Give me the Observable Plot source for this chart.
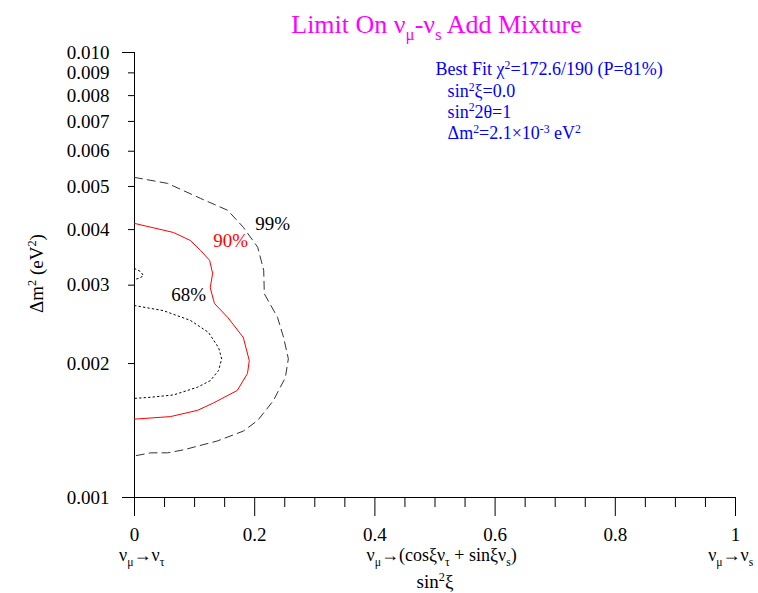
<!DOCTYPE html>
<html>
<head>
<meta charset="utf-8">
<script src="https://cdn.jsdelivr.net/npm/d3@7"></script>
<script src="https://cdn.jsdelivr.net/npm/@observablehq/plot@0.6"></script>
<style>
  html, body { margin: 0; padding: 0; background: #fff; }
  #chart svg, #chart svg text, #chart svg tspan { font-family: "Liberation Serif", "Times New Roman", serif !important; }
</style>
</head>
<body>
<div id="chart"></div>
<script>
// ---------- data ----------
const titleText = "Limit On ν_{μ}-ν_{s} Add Mixture";
const yLabelText = "Δm^{2} (eV^{2})";
const xTitleText = "sin^{2}ξ";

const xMajorTicks = [0, 0.2, 0.4, 0.6, 0.8, 1];
const xMinorTicks = [0.05, 0.1, 0.15, 0.25, 0.3, 0.35, 0.45, 0.5, 0.55, 0.65, 0.7, 0.75, 0.85, 0.9, 0.95];
const yTicks = [0.001, 0.002, 0.003, 0.004, 0.005, 0.006, 0.007, 0.008, 0.009, 0.010];
const yMajorTicks = [0.001, 0.010];

const xSubLabels = ["ν_{μ}→ν_{τ}", "ν_{μ}→(cosξν_{τ} + sinξν_{s})", "ν_{μ}→ν_{s}"];
const xSubLabelPos = [0.012, 0.511, 0.992];

// contours: [sin^2 xi, delta m^2 (eV^2)]
const c99 = [
  [0, 0.00524], [0.055, 0.00508], [0.110, 0.00470], [0.155, 0.00442], [0.181, 0.00405],
  [0.205, 0.00365], [0.215, 0.00324], [0.216, 0.00287], [0.238, 0.00254], [0.248, 0.00229],
  [0.256, 0.00205], [0.251, 0.00186], [0.231, 0.00165], [0.205, 0.00149], [0.181, 0.00141],
  [0.138, 0.00134], [0.082, 0.00128], [0.055, 0.00126], [0.027, 0.00126], [0, 0.00124]
];
const c90 = [
  [0, 0.00413], [0.027, 0.00405], [0.065, 0.00394], [0.093, 0.00378], [0.110, 0.00359],
  [0.125, 0.00341], [0.130, 0.00319], [0.126, 0.00296], [0.133, 0.00273], [0.155, 0.00254],
  [0.181, 0.00229], [0.191, 0.00203], [0.188, 0.00190], [0.171, 0.00174], [0.131, 0.00163],
  [0.105, 0.00157], [0.060, 0.00152], [0, 0.00150]
];
const c68 = [
  [0, 0.00270], [0.048, 0.00263], [0.093, 0.00250], [0.123, 0.00235], [0.140, 0.00217],
  [0.145, 0.00205], [0.140, 0.00193], [0.126, 0.00183], [0.105, 0.00177], [0.065, 0.00170],
  [0.027, 0.00168], [0, 0.00167]
];
const c68island = [
  [0, 0.00327], [0.010, 0.00322], [0.015, 0.00315], [0.008, 0.00311], [0, 0.00309]
];

const pctLabels = ["99%", "90%", "68%"];
const pctX = [0.230, 0.160, 0.090];
const pctY = [0.00400, 0.00366, 0.00277];
const pctColors = ["#000000", "#ff0000", "#000000"];

const fitLines = [
  "Best Fit χ^{2}=172.6/190 (P=81%)",
  "sin^{2}ξ=0.0",
  "sin^{2}2θ=1",
  "Δm^{2}=2.1×10^{-3} eV^{2}"
];
const fitX = [0.501, 0.521, 0.521, 0.521];
const fitY = [0.00888, 0.00794, 0.00713, 0.00639];

// ---------- chart ----------
const serif = "Liberation Serif";

const chart = Plot.plot({
  width: 758,
  height: 593,
  marginLeft: 134,
  marginRight: 23,
  marginTop: 52,
  marginBottom: 96,
  x: {domain: [0, 1]},
  y: {type: "log", domain: [0.001, 0.01]},
  style: {fontFamily: serif, background: "#fff", color: "#000", overflow: "visible"},
  marks: [
    // axes
    Plot.axisY({ticks: yTicks, tickSize: 6, tickPadding: 19, tickFormat: d3.format(".3f"), fontSize: 19, label: null}),
    Plot.axisY({ticks: yMajorTicks, tickSize: 12, tickFormat: () => "", label: null}),
    Plot.axisX({ticks: xMajorTicks, tickSize: 19, tickPadding: 11, tickFormat: d => String(d), fontSize: 19, label: null}),
    Plot.axisX({ticks: xMinorTicks, tickSize: 10, tickFormat: () => "", label: null}),
    Plot.ruleX([0], {y1: 0.001, y2: 0.01, stroke: "#000"}),
    Plot.ruleY([0.001], {x1: 0, x2: 1, stroke: "#000"}),

    // contours
    Plot.line(c99, {x: d => d[0], y: d => d[1], stroke: "#333", strokeWidth: 1, strokeDasharray: "8,5"}),
    Plot.line(c90, {x: d => d[0], y: d => d[1], stroke: "#ff0000", strokeWidth: 1}),
    Plot.line(c68, {x: d => d[0], y: d => d[1], stroke: "#000", strokeWidth: 1, strokeDasharray: "1.5,3"}),
    Plot.line(c68island, {x: d => d[0], y: d => d[1], stroke: "#000", strokeWidth: 1, strokeDasharray: "1.5,3"}),

    // contour labels
    Plot.text(pctLabels, {x: (d, i) => pctX[i], y: (d, i) => pctY[i], text: d => d, fill: (d, i) => pctColors[i],
      fontSize: 19, textAnchor: "middle", lineAnchor: "bottom"}),

    // best-fit annotation
    Plot.text(fitLines, {x: (d, i) => fitX[i], y: (d, i) => fitY[i], text: d => d, fill: "#0000ff",
      fontSize: 18, textAnchor: "start", lineAnchor: "bottom"}),

    // title
    Plot.text([titleText], {frameAnchor: "top", textAnchor: "middle", dx: 1.5, dy: -20, lineAnchor: "bottom", fontSize: 26, fill: "#ff00ff"}),

    // y label
    Plot.text([yLabelText], {frameAnchor: "left", textAnchor: "middle", rotate: -90, dx: -92, dy: -1.5, lineAnchor: "bottom", fontSize: 19}),

    // x sub-labels and title
    Plot.text(xSubLabels, {x: (d, i) => xSubLabelPos[i], text: d => d, frameAnchor: "bottom", textAnchor: "middle", dy: 63, lineAnchor: "bottom", fontSize: 18}),
    Plot.text([xTitleText], {x: 0.5, text: d => d, frameAnchor: "bottom", textAnchor: "middle", dy: 90, lineAnchor: "bottom", fontSize: 19})
  ]
});

document.getElementById("chart").appendChild(chart);

// turn _{..} and ^{..} markup into sub/superscript tspans
function richify(svg) {
  const NS = "http://www.w3.org/2000/svg";
  svg.querySelectorAll("text").forEach(el => {
    const s = el.textContent;
    if (!/[_^]\{/.test(s)) return;
    const fs = parseFloat(getComputedStyle(el).fontSize) || 16;
    const parts = [];
    const re = /([_^])\{([^}]*)\}/g;
    let last = 0, m;
    while ((m = re.exec(s))) {
      if (m.index > last) parts.push({t: s.slice(last, m.index), k: 0});
      parts.push({t: m[2], k: m[1] === "_" ? 1 : -1});
      last = re.lastIndex;
    }
    if (last < s.length) parts.push({t: s.slice(last), k: 0});
    while (el.firstChild) el.removeChild(el.firstChild);
    let off = 0;
    for (const p of parts) {
      const target = p.k === 1 ? 0.3 * fs : p.k === -1 ? -0.36 * fs : 0;
      const ts = document.createElementNS(NS, "tspan");
      ts.setAttribute("dy", (target - off).toFixed(2));
      off = target;
      if (p.k) ts.setAttribute("font-size", (0.65 * fs).toFixed(1));
      ts.textContent = p.t;
      el.appendChild(ts);
    }
  });
}
richify(chart);
</script>
</body>
</html>
